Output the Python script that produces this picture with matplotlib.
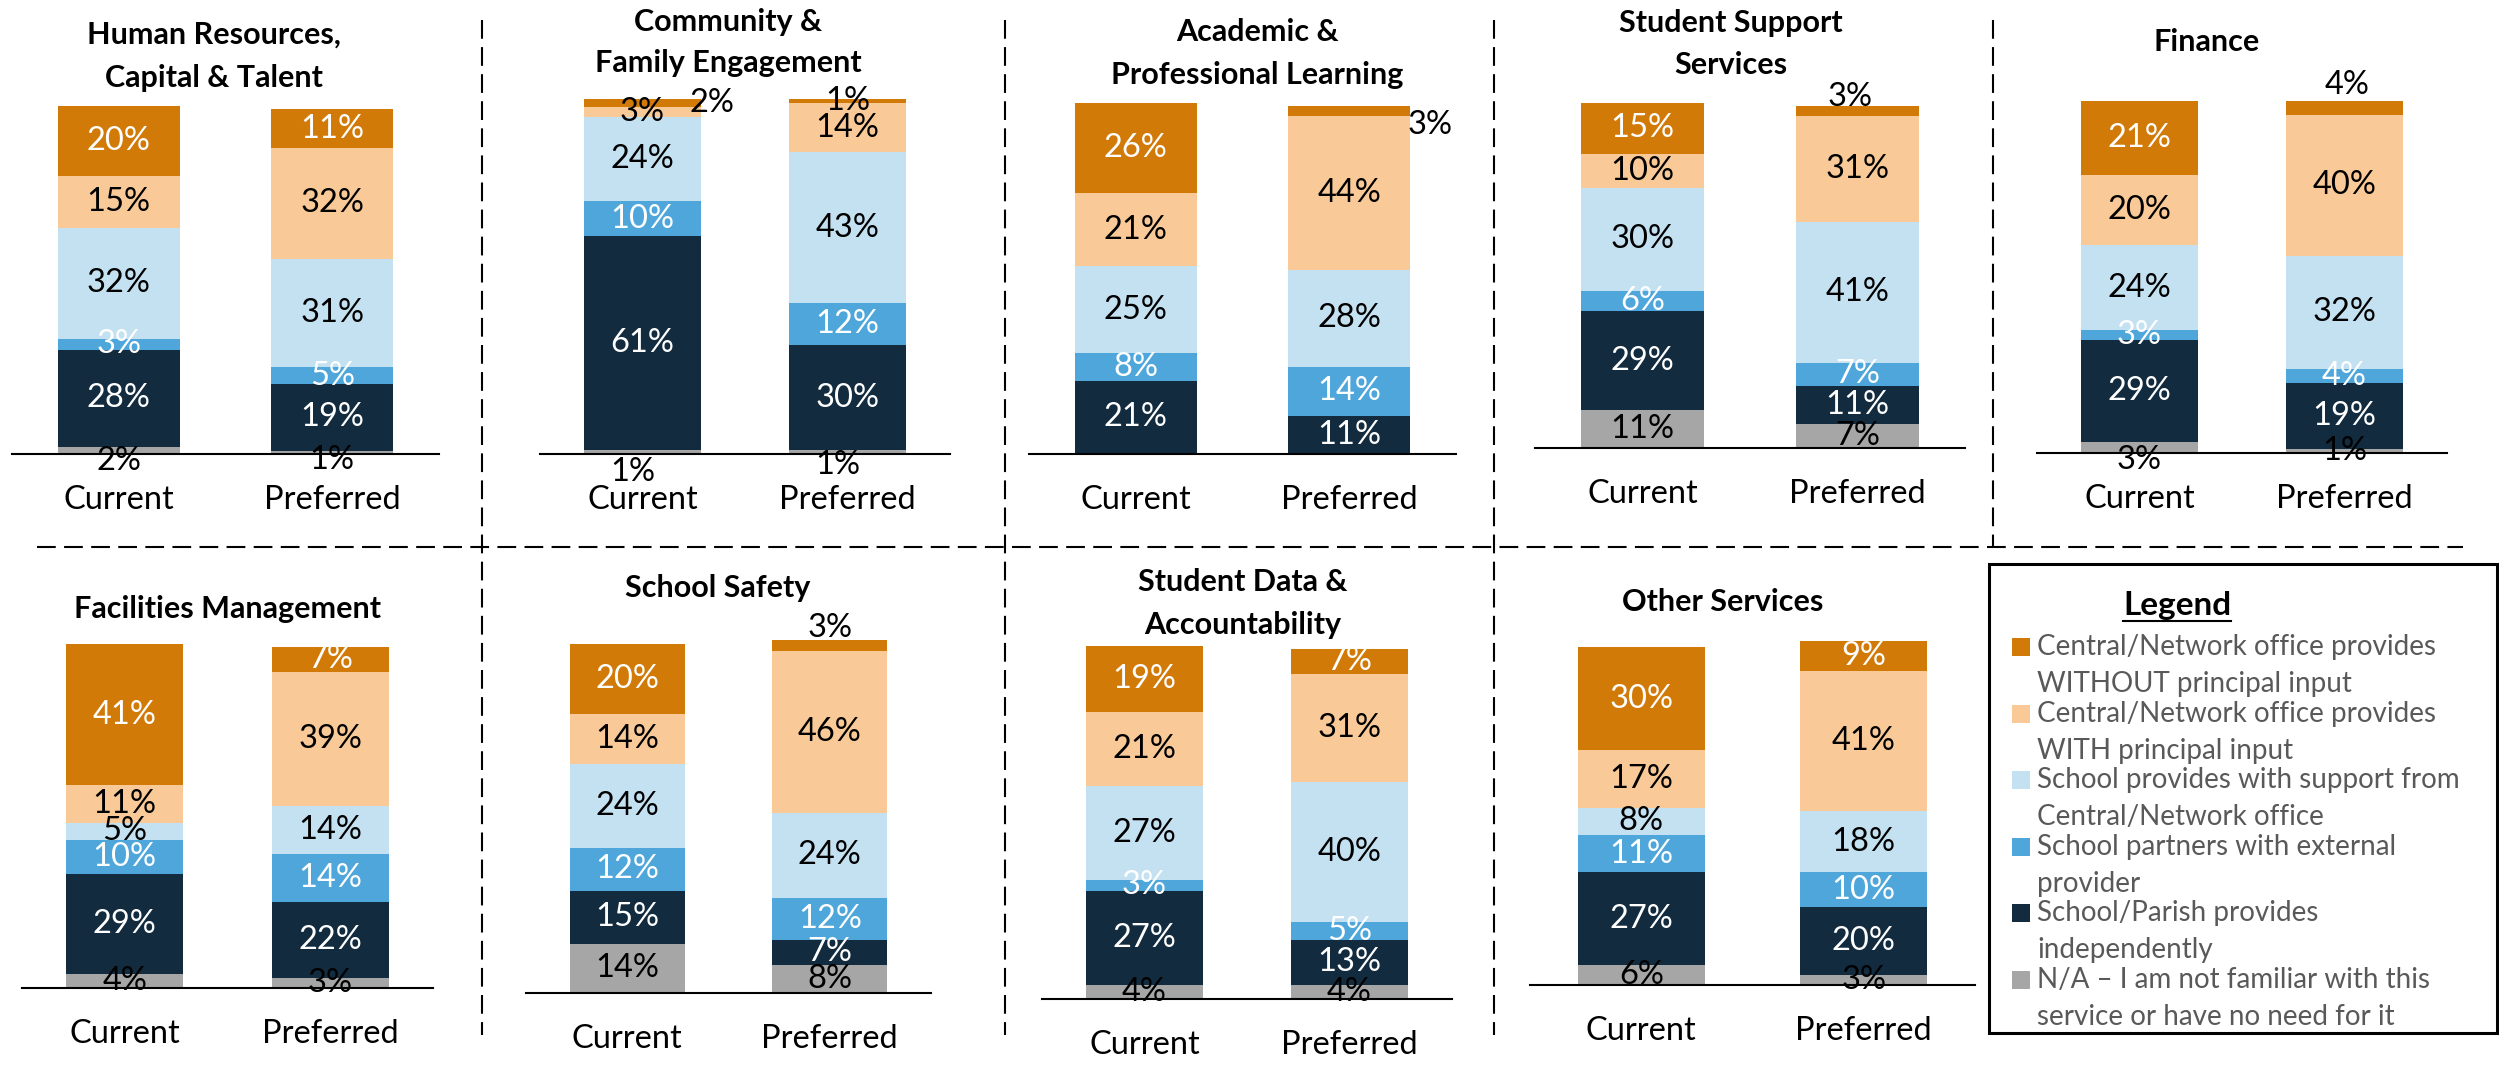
import matplotlib
matplotlib.use("Agg")
import matplotlib.pyplot as plt
from matplotlib.lines import Line2D
from matplotlib.patches import Rectangle

plt.rcParams['font.family'] = ['Lato', 'DejaVu Sans']

# ---- data -------------------------------------------------------------
# segment order, bottom to top
segments = [
    "N/A \u2013 I am not familiar with this\nservice or have no need for it",
    "School/Parish provides\nindependently",
    "School partners with external\nprovider",
    "School provides with support from\nCentral/Network office",
    "Central/Network office provides\nWITH principal input",
    "Central/Network office provides\nWITHOUT principal input",
]
seg_colors = ["#A6A6A6", "#122B3F", "#4EA6DA", "#C4E1F2", "#F9CA98", "#D17A08"]
seg_text = ["black", "white", "white", "black", "black", "white"]

bar_names = ["Current", "Preferred"]

panel_titles = [
    "Human Resources,\nCapital & Talent",
    "Community &\nFamily Engagement",
    "Academic &\nProfessional Learning",
    "Student Support\nServices",
    "Finance",
    "Facilities Management",
    "School Safety",
    "Student Data &\nAccountability",
    "Other Services",
]

current = [
    [2, 28, 3, 32, 15, 20],
    [1, 61, 10, 24, 3, 2],
    [0, 21, 8, 25, 21, 26],
    [11, 29, 6, 30, 10, 15],
    [3, 29, 3, 24, 20, 21],
    [4, 29, 10, 5, 11, 41],
    [14, 15, 12, 24, 14, 20],
    [4, 27, 3, 27, 21, 19],
    [6, 27, 11, 8, 17, 30],
]
preferred = [
    [1, 19, 5, 31, 32, 11],
    [1, 30, 12, 43, 14, 1],
    [0, 11, 14, 28, 44, 3],
    [7, 11, 7, 41, 31, 3],
    [1, 19, 4, 32, 40, 4],
    [3, 22, 14, 14, 39, 7],
    [8, 7, 12, 24, 46, 3],
    [4, 13, 5, 40, 31, 7],
    [3, 20, 10, 18, 41, 9],
]

# ---- layout (pixels of the 2499x1077 canvas) ---------------------------
W, H = 2499, 1077
# left, right, baseline, bar top, title x, title line y's
layout = [
    (12, 439, 454, 106, 214, [35, 78]),
    (540, 950, 454, 103, 728, [22, 63]),
    (1029, 1456, 454, 106, 1257, [32, 75]),
    (1535, 1965, 448, 106, 1731, [23, 65]),
    (2037, 2447, 453, 101, 2207, [42]),
    (22, 433, 988, 644, 227, [609]),
    (526, 931, 993, 640, 718, [588]),
    (1042, 1452, 999, 649, 1243, [582, 625]),
    (1530, 1975, 985, 644, 1723, [602]),
]

# label nudges in px (panel, bar, segment) -> (dx, dy up)
nudges = {
    (0, 0, 0): (0, -10), (0, 1, 0): (0, -8),
    (1, 0, 0): (-10, -20), (1, 1, 0): (-10, -13), (1, 0, 5): (69, 0),
    (2, 1, 5): (81, -14),
    (3, 1, 5): (-7, 14),
    (4, 0, 0): (0, -12), (4, 1, 5): (3, 23),
    (6, 1, 5): (0, 17),
}
# labels drawn in black although they sit on the dark orange
black_labels = {(1, 0, 5), (1, 1, 5), (2, 1, 5), (3, 1, 5), (4, 1, 5), (6, 1, 5)}

PT = 0.72  # px -> pt at 100 dpi
LABEL_FS = 23.5
TITLE_FS = 22
LEG_FS = 20


def fx(x):
    return x / W


def fy(y):
    return 1 - y / H


fig = plt.figure(figsize=(W / 100, H / 100), dpi=100)

for p, (left, right, base, top, tx, tys) in enumerate(layout):
    ax = fig.add_axes([fx(left), fy(base), (right - left) / W, (base - top) / H])
    ax.set_xlim(-0.5, 1.5)
    ax.set_ylim(0, 100)
    for b, vals in enumerate([current[p], preferred[p]]):
        bottom = 0
        for s, v in enumerate(vals):
            ax.bar(b, v, width=0.57, bottom=bottom, color=seg_colors[s], linewidth=0,
                   clip_on=False)
            if v > 0:
                dx, dy = nudges.get((p, b, s), (0, 0))
                col = "black" if (p, b, s) in black_labels else seg_text[s]
                ax.annotate(f"{v}%", xy=(b, bottom + v / 2), xytext=(dx * PT, dy * PT),
                            textcoords="offset points", ha="center", va="center",
                            fontsize=LABEL_FS, color=col, zorder=4,
                            annotation_clip=False)
            bottom += v
        ax.annotate(bar_names[b], xy=(b, 0), xytext=(0, -46 * PT), textcoords="offset points",
                    ha="center", va="center", fontsize=LABEL_FS, color="black",
                    annotation_clip=False)
    for side in ["left", "right", "top"]:
        ax.spines[side].set_visible(False)
    ax.spines["bottom"].set_linewidth(1.5)
    ax.spines["bottom"].set_color("black")
    ax.set_xticks([])
    ax.set_yticks([])
    ax.patch.set_alpha(0)

    for line, ty in zip(panel_titles[p].split("\n"), tys):
        fig.text(fx(tx), fy(ty), line, ha="center", va="center",
                 fontsize=TITLE_FS, fontweight="bold", color="black")

# dashed separators
dash = dict(color="black", linewidth=1.5, linestyle=(0, (9, 4)))
fig.add_artist(Line2D([fx(37), fx(2463)], [fy(547), fy(547)], **dash))
for x in [482, 1005, 1494]:
    fig.add_artist(Line2D([fx(x), fx(x)], [fy(20), fy(1035)], **dash))
fig.add_artist(Line2D([fx(1993), fx(1993)], [fy(20), fy(547)], **dash))

# legend box
fig.add_artist(Rectangle((fx(1989), fy(1033)), (2497 - 1989) / W, (1033 - 564) / H,
                         transform=fig.transFigure, fill=False, edgecolor="black",
                         linewidth=2.2))
leg_title = fig.text(fx(2177), fy(605), "Legend", ha="center", va="center",
                     fontsize=24, fontweight="bold", color="black")
fig.canvas.draw()
bb = leg_title.get_window_extent()
fig.add_artist(Line2D([bb.x0 / W, bb.x1 / W], [(bb.y0 - 1) / H, (bb.y0 - 1) / H],
                      color="black", linewidth=1.5))

for i, s in enumerate(range(5, -1, -1)):
    y0 = 647 + i * 66.6
    fig.add_artist(Rectangle((fx(2012), fy(y0 + 9)), 18 / W, 18 / H,
                             transform=fig.transFigure, facecolor=seg_colors[s],
                             edgecolor="none"))
    for k, line in enumerate(segments[s].split("\n")):
        fig.text(fx(2037), fy(y0 + k * 37), line, ha="left", va="center",
                 fontsize=LEG_FS, color="#595959")

fig.savefig("out.png", dpi=100)
